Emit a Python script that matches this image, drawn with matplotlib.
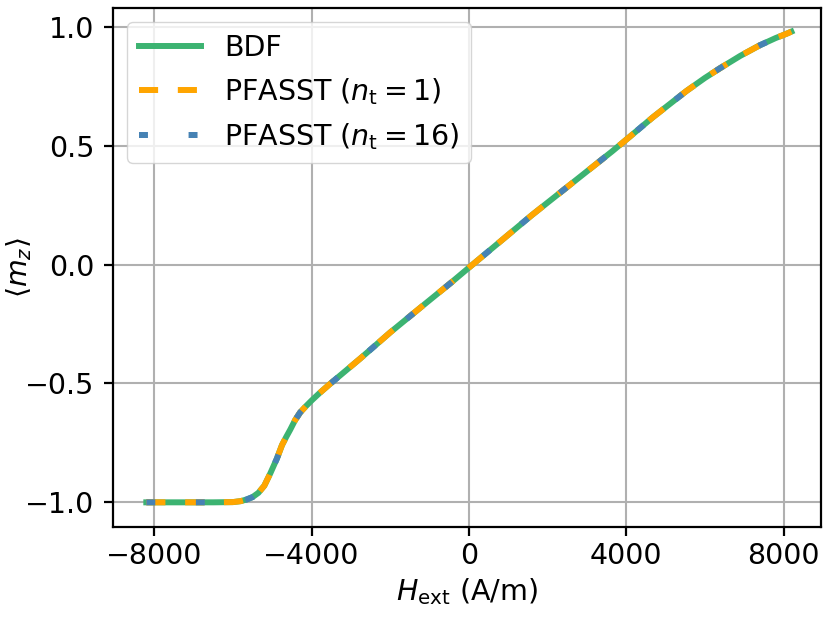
import numpy as np
import matplotlib
matplotlib.use("Agg")
import matplotlib.pyplot as plt

# field values (A/m) and averaged magnetization
h_ext = [-8200, -7500, -7000, -6500, -6000, -5800, -5650, -5500, -5350, -5200,
         -5050, -4880, -4750, -4640, -4540, -4420, -4290, -4150, -4000, -3800,
         -3530, -2760, -1990, -1216, -445, 0, 580, 1600, 2620, 3640,
         4070, 4680, 5530, 6000, 6375, 6900, 7390, 7800, 8075, 8200]
m_z = [-1.0, -1.0, -1.0, -1.0, -0.999, -0.995, -0.988, -0.978, -0.96, -0.93,
       -0.879, -0.816, -0.759, -0.724, -0.694, -0.655, -0.622, -0.597, -0.572, -0.541,
       -0.502, -0.395, -0.284, -0.179, -0.075, -0.013, 0.067, 0.208, 0.342, 0.476,
       0.535, 0.62, 0.73, 0.785, 0.825, 0.878, 0.922, 0.953, 0.971, 0.98]

labels = ["BDF", r"PFASST ($n_\mathrm{t} = 1$)", r"PFASST ($n_\mathrm{t} = 16$)"]
colors = ["mediumseagreen", "orange", "steelblue"]

plt.rcParams["font.size"] = 20.5
plt.rcParams["axes.linewidth"] = 1.6

fig = plt.figure(figsize=(8.3, 6.23), dpi=100)
ax = fig.add_axes([0.136, 0.154, 0.853, 0.833])

lw = 4.3
ax.plot(h_ext, m_z, color=colors[0], lw=lw, label=labels[0])
ax.plot(h_ext, m_z, color=colors[1], lw=lw, dashes=(3.2, 3.3), label=labels[1])
ax.plot(h_ext, m_z, color=colors[2], lw=lw, dashes=(1.5, 6.8), label=labels[2])

ax.set_xlim(-9050, 8950)
ax.set_ylim(-1.104, 1.079)
ax.set_xticks([-8000, -4000, 0, 4000, 8000])
ax.set_yticks([-1.0, -0.5, 0.0, 0.5, 1.0])
ax.tick_params(width=1.6, length=6.5)
ax.tick_params(axis="x", pad=4.5)
ax.tick_params(axis="y", pad=7)
ax.grid(True, color="#b0b0b0", lw=1.5)
ax.set_axisbelow(True)

ax.set_xlabel(r"$H_\mathrm{ext}$ (A/m)")
ax.set_ylabel(r"$\langle m_z \rangle$")
ax.yaxis.set_label_coords(-0.1116, 0.5)
ax.legend(loc="upper left", handlelength=2.2, borderaxespad=0.5)

fig.savefig("out.png", dpi=100)
